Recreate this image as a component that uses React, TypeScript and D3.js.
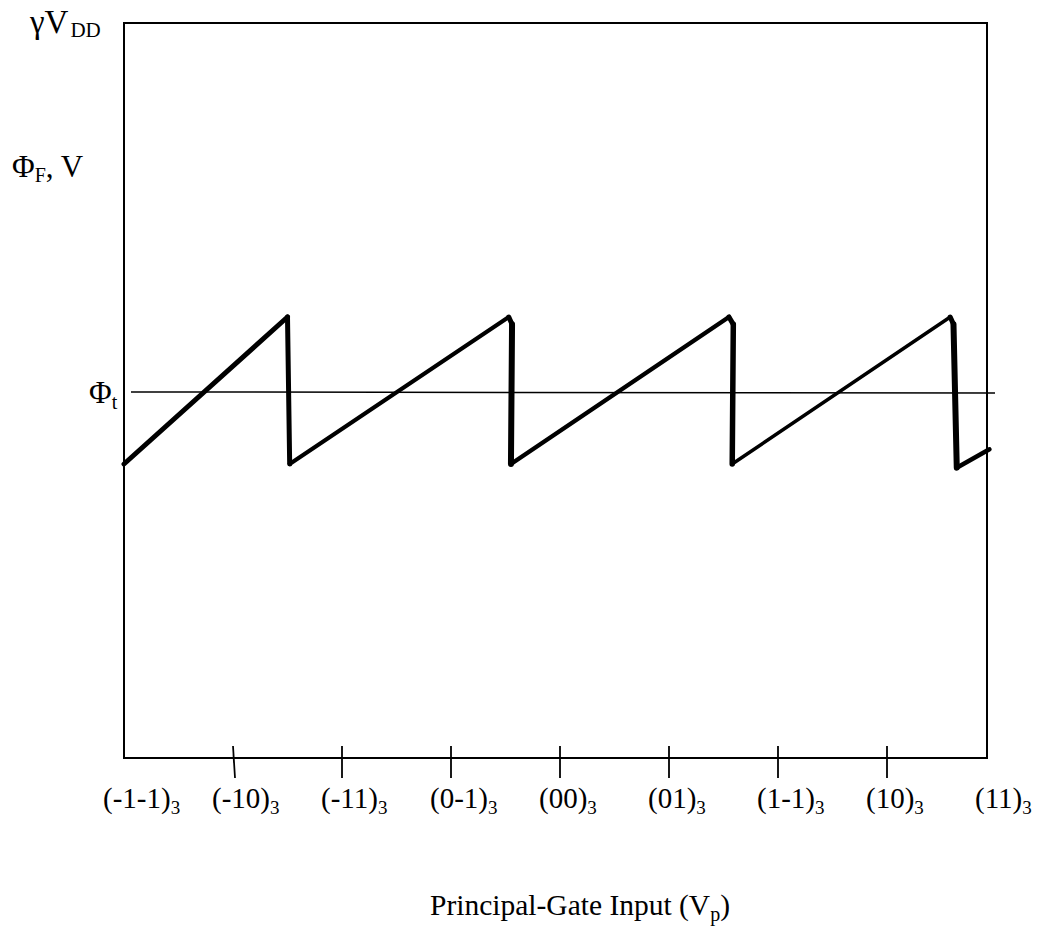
import React from "react";
import * as d3 from "d3";

// ---- data ----
const tickValues = [-4, -3, -2, -1, 0, 1, 2, 3, 4];
const tickLabels = ["(-1-1)", "(-10)", "(-11)", "(0-1)", "(00)", "(01)", "(1-1)", "(10)", "(11)"];
const innerTicks = [-3, -2, -1, 0, 1, 2, 3];
const sawX = [-4.0, -2.5, -2.48, -0.47, -0.44, -0.45, 1.55, 1.59, 1.58, 3.58, 3.61, 3.64, 3.94];
const sawY = [0.4, 0.6, 0.4, 0.6, 0.59, 0.4, 0.6, 0.59, 0.4, 0.6, 0.59, 0.395, 0.42];
const thresholdValue = 0.498;

// ---- style (not data) ----
const segWidths = [5, 5, 4, 5, 6, 4.5, 5, 5.5, 3.5, 5, 6, 4.5];
const W = 1039;
const H = 930;
const box = { left: 124, right: 987, top: 23, bottom: 758 };
const FONT = "'Liberation Serif', 'Times New Roman', serif";

export default function App() {
  const x = d3.scaleLinear().domain([-4, 4]).range([124, 996]);
  const y = d3.scaleLinear().domain([0, 1]).range([box.bottom, box.top]);
  const pts = sawX.map((v, i) => [x(v), y(sawY[i])] as [number, number]);
  const segs = pts.slice(0, -1).map((p, i) => [p, pts[i + 1]]);

  return (
    <svg
      width={W}
      height={H}
      style={{ position: "absolute", left: 0, top: 0, background: "#fff" }}
      fontFamily={FONT}
    >
      <rect x={0} y={0} width={W} height={H} fill="#fff" />
      {/* plot box */}
      <rect
        x={box.left}
        y={box.top}
        width={box.right - box.left}
        height={box.bottom - box.top}
        fill="none"
        stroke="#000"
        strokeWidth={2}
      />
      {/* threshold line */}
      <line
        x1={x(-4) + 7}
        x2={x(4) - 1}
        y1={y(thresholdValue)}
        y2={y(thresholdValue) + 1}
        stroke="#000"
        strokeWidth={1.5}
      />
      {/* sawtooth */}
      {segs.map(([a, b], i) => (
        <line
          key={i}
          x1={a[0]}
          y1={a[1]}
          x2={b[0]}
          y2={b[1]}
          stroke="#000"
          strokeWidth={segWidths[i]}
          strokeLinecap="round"
        />
      ))}
      {/* ticks */}
      {innerTicks.map((v) => (
        <line
          key={v}
          x1={x(v)}
          x2={x(v) + (v === -3 ? 2 : 0)}
          y1={box.bottom - 12}
          y2={box.bottom + 20}
          stroke="#000"
          strokeWidth={1.8}
        />
      ))}
      {/* tick labels */}
      {tickValues.map((v, i) => (
        <text key={v} x={x(v) - 21} y={808} fontSize={29} fill="#000">
          {tickLabels[i]}
          <tspan fontSize={19} dy={6}>3</tspan>
        </text>
      ))}
      {/* y labels */}
      <text x={30} y={33} fontSize={33} fill="#000">
        γV<tspan fontSize={21} dy={4} dx={2}>DD</tspan>
      </text>
      <text x={12} y={177} fontSize={31} fill="#000">
        Φ<tspan fontSize={20} dy={5}>F</tspan>
        <tspan dy={-5}>, V</tspan>
      </text>
      <text x={89} y={403} fontSize={31} fill="#000">
        Φ<tspan fontSize={20} dy={6}>t</tspan>
      </text>
      {/* x axis title */}
      <text x={580} y={915} fontSize={29.5} fill="#000" textAnchor="middle">
        Principal-Gate Input (V<tspan fontSize={20} dy={6}>p</tspan>
        <tspan dy={-6}>)</tspan>
      </text>
    </svg>
  );
}
